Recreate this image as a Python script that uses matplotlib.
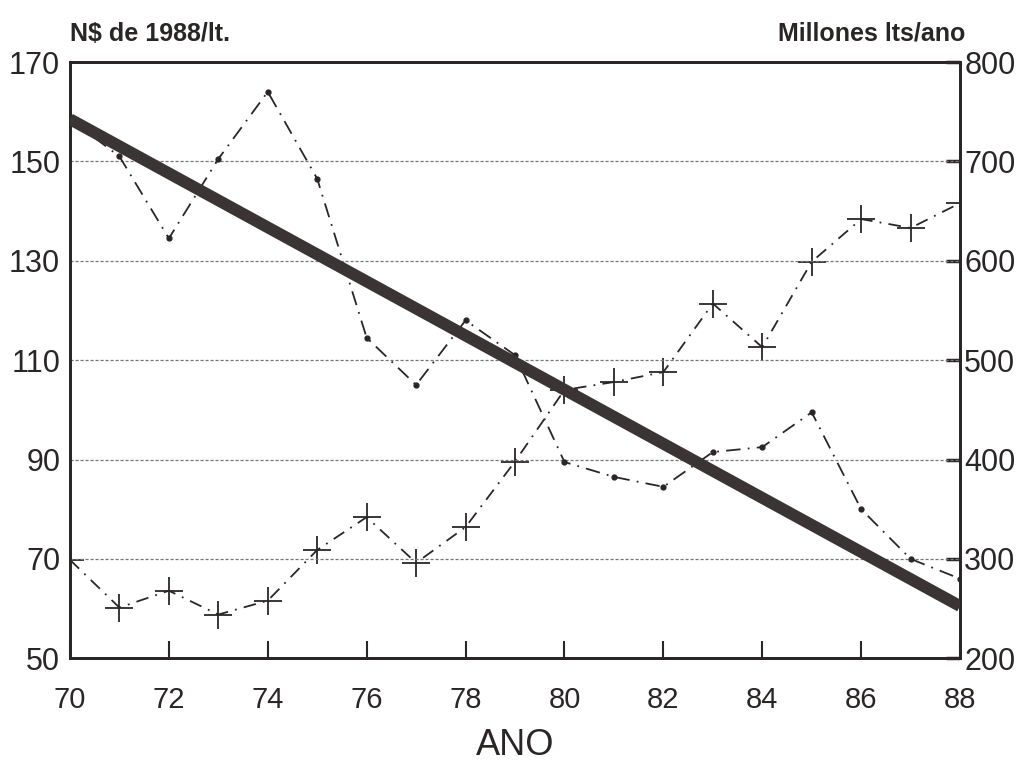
import matplotlib
matplotlib.use('Agg')
import matplotlib.pyplot as plt
import numpy as np

plt.rcParams['font.family'] = ['Liberation Sans', 'DejaVu Sans']

# datos
anos = [70, 71, 72, 73, 74, 75, 76, 77, 78, 79, 80, 81, 82, 83, 84, 85, 86, 87, 88]
precio = [158.5, 151, 134.5, 150.5, 164, 146.5, 114.5, 105, 118, 111,
          89.5, 86.5, 84.5, 91.5, 92.5, 99.5, 80, 70, 66]
volumen = [299, 251, 268, 244, 258, 309, 342, 296, 332, 398,
           470, 478, 488, 557, 513, 599, 642, 633, 658]
tendencia_x = [70, 88]
tendencia_y = [158.5, 60.5]

tinta = '#2b2626'

fig = plt.figure(figsize=(10.29, 7.61), dpi=100)
ax = fig.add_axes([0.068, 0.135, 0.865, 0.7835])
ax2 = ax.twinx()

ax.set_xlim(70, 88)
ax.set_ylim(50, 170)
ax2.set_ylim(200, 800)

# rejilla
for g in [70, 90, 110, 130, 150]:
    ax.axhline(g, color='#777777', lw=0.9, ls=(0, (2.5, 1.5)), zorder=1)

ax.plot(anos, precio, color=tinta, lw=1.3, ls=(0, (8, 4, 1, 4)),
        marker='o', ms=3.5, zorder=3)
ax2.plot(anos, volumen, color=tinta, lw=1.3, ls=(0, (7, 4, 1, 4)),
         marker='+', ms=20, mew=1.3, zorder=3)
ax.plot(tendencia_x, tendencia_y, color='#3a3434', lw=8.5,
        solid_capstyle='butt', zorder=4)

ax.set_zorder(ax2.get_zorder() + 1)
ax.patch.set_visible(False)

ax.set_xticks(range(70, 89, 2))
ax.set_yticks(range(50, 171, 20))
ax2.set_yticks(range(200, 801, 100))

ax.tick_params(axis='x', direction='in', length=12, width=1.5,
               labelsize=21, pad=20, colors=tinta)
ax.tick_params(axis='y', direction='in', length=0, labelsize=22,
               pad=7, colors=tinta)
ax2.tick_params(axis='y', direction='in', length=10, width=2.5,
                labelsize=22, pad=3, colors=tinta)

for a in (ax, ax2):
    for s in a.spines.values():
        s.set_linewidth(2.0)
        s.set_color(tinta)

ax.set_xlabel('ANO', fontsize=26, color=tinta, labelpad=10)
fig.text(0.068, 0.94, 'N$ de 1988/lt.', fontsize=18, fontweight='bold',
         color=tinta, ha='left', va='bottom')
fig.text(0.938, 0.94, 'Millones lts/ano', fontsize=18, fontweight='bold',
         color=tinta, ha='right', va='bottom')

fig.savefig('out.png', dpi=100)
